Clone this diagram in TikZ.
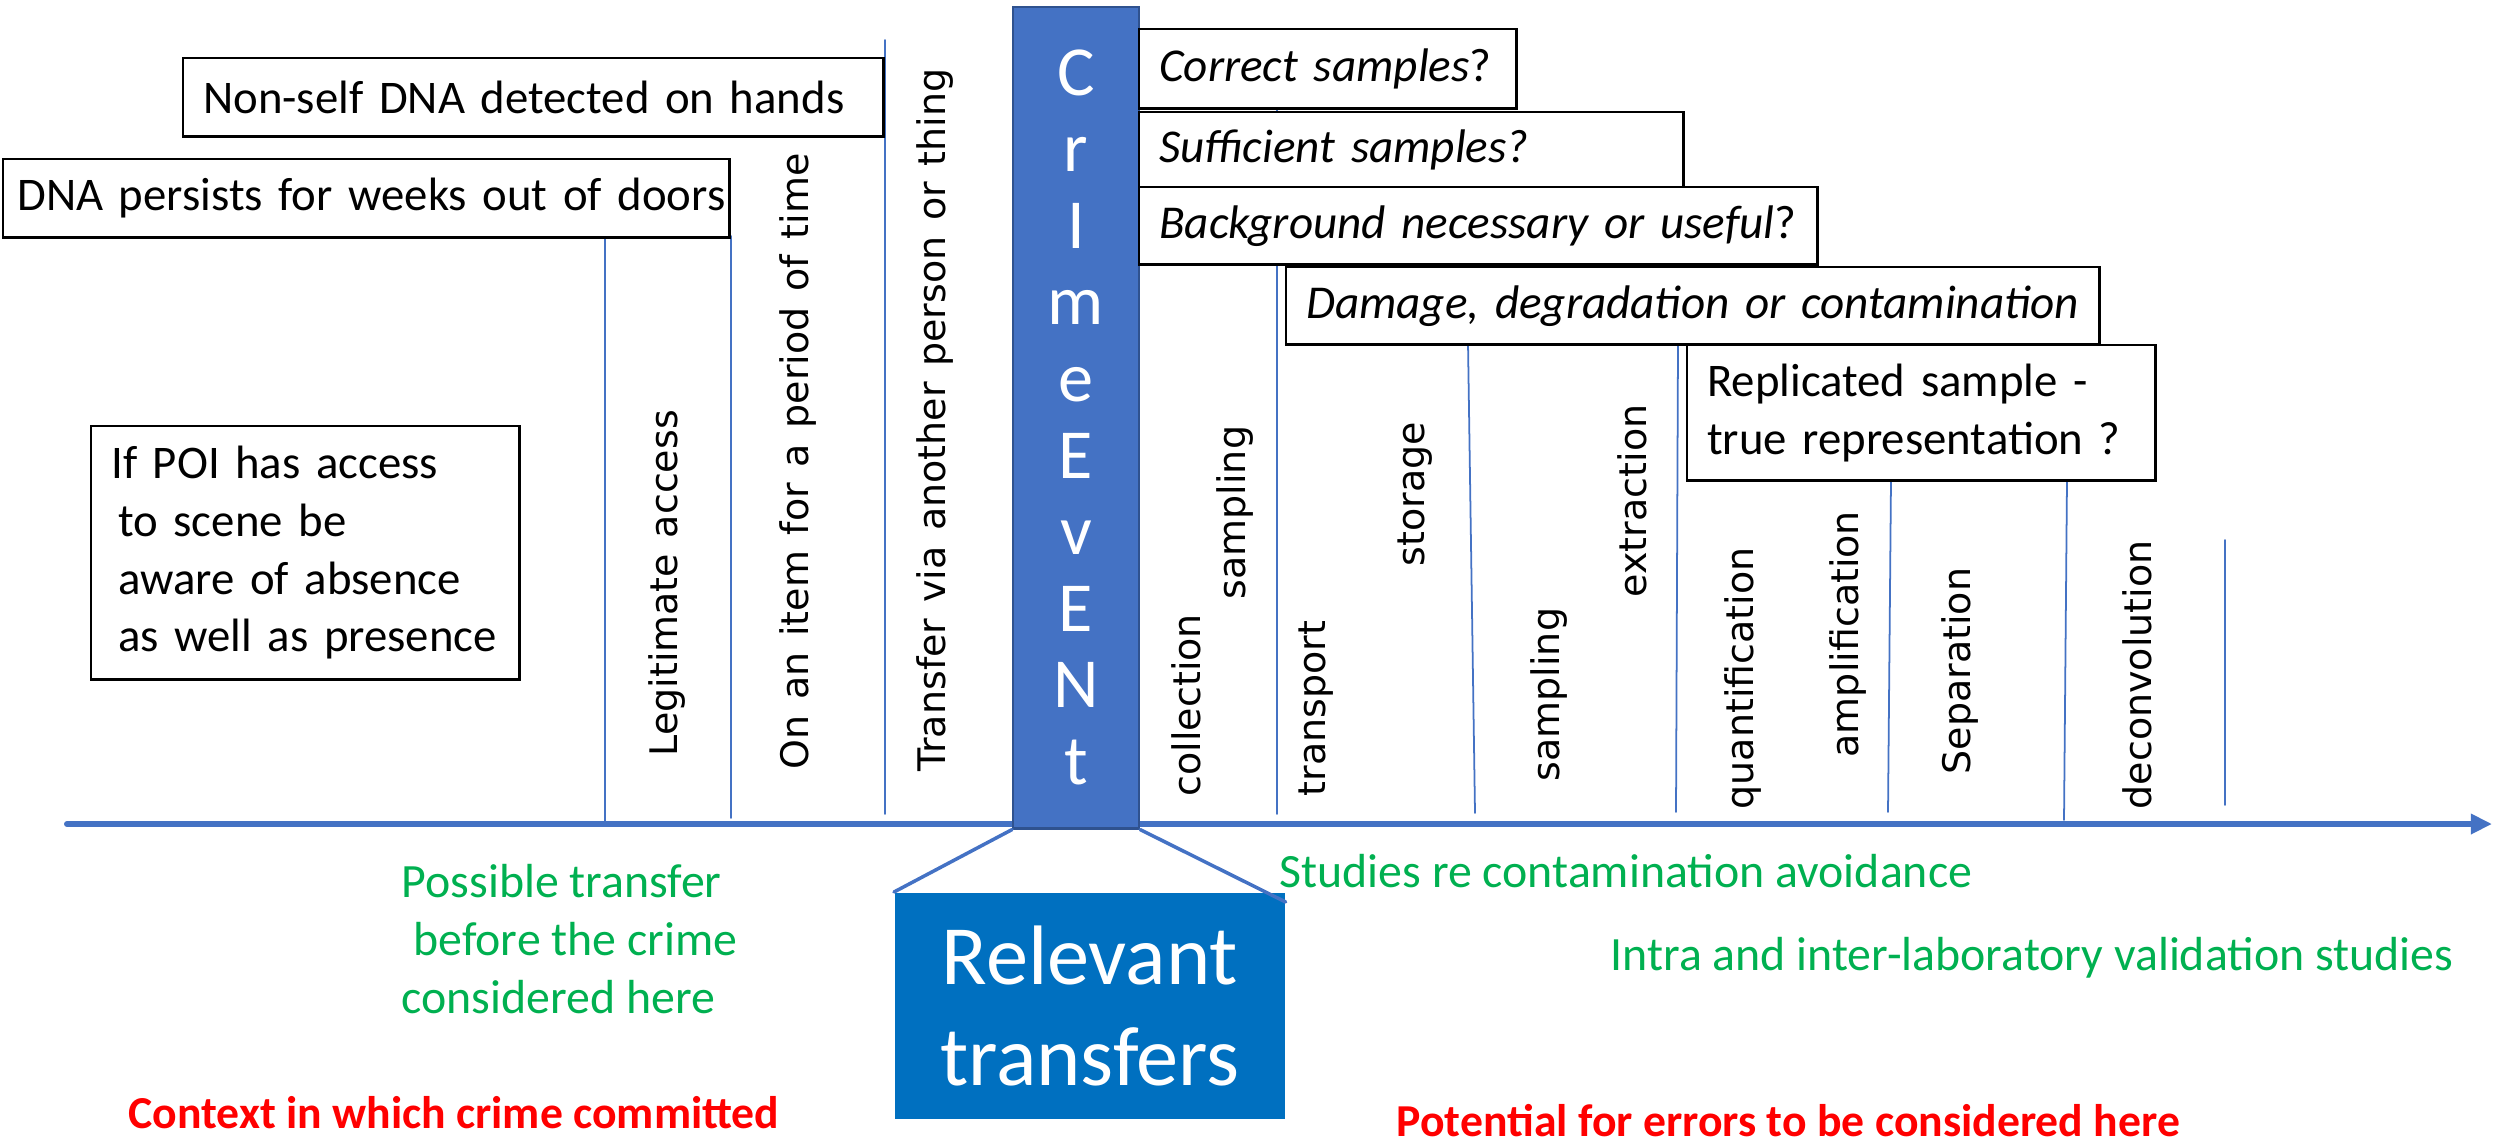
\documentclass[tikz,border=0pt]{standalone}
\usepackage{fontspec}
\setmainfont{Carlito}
\newfontfamily\stagefont[WordSpace=1.3]{DejaVu Sans}
\usetikzlibrary{arrows.meta}

\definecolor{axisblue}{HTML}{4472C4}
\definecolor{eventedge}{HTML}{2F528F}
\definecolor{relblue}{HTML}{0070C0}
\definecolor{notegreen}{HTML}{00B050}
\definecolor{notered}{HTML}{FF0000}

\begin{document}
\begin{tikzpicture}[
	x=0.01cm, y=-0.01cm,
	line cap=round,
	every node/.style={font=\fontsize{13.6}{16.4}\selectfont},
	note/.style={draw=black, line width=0.7pt, fill=white, anchor=north west,
		align=left, inner xsep=0.2cm, inner ysep=0pt,
		font=\fontsize{13.3}{16.4}\selectfont},
	query/.style={note, font=\fontsize{13.4}{16.4}\selectfont\itshape},
	stage/.style={rotate=90, anchor=west, inner sep=0pt,
		font=\stagefont\fontsize{10.8}{12}\selectfont},
	tick/.style={draw=axisblue, line width=0.5pt},
	letter/.style={anchor=base, inner sep=0pt, text=white,
		font=\fontsize{20}{24}\selectfont},
	link/.style={draw=axisblue, line width=1pt},
	greentext/.style={text=notegreen, inner sep=0pt},
	redtext/.style={text=notered, inner sep=0pt, font=\fontsize{13}{16}\selectfont\bfseries}
	]
	\useasboundingbox (0,0) rectangle (2503,1145);
	
	% Time line
	\coordinate (tstart) at (67,824);
	\coordinate (tend) at (2492,824);
	\draw[axisblue, line width=1.7pt, -{Triangle[length=6pt, width=5.5pt]}] (tstart) -- (tend);
	
	% Thin stage dividers
	\foreach \xa/\ya/\xb/\yb in {605/236/605/822, 731/236/731/818, 885/40/885/814,
		1277/107/1277/814, 1468/343/1475/813, 1678/343/1676/812,
		1891/479/1888/812, 2067/479/2064/820, 2225/540/2225/805}
	\draw[tick] (\xa,\ya) -- (\xb,\yb);
	
	% Crime event bar
	\node[draw=eventedge, fill=axisblue, line width=0.6pt, anchor=north west,
		minimum width=1.26cm, minimum height=8.21cm, inner sep=0pt] (event) at (1012,6) {};
	\foreach \ch [count=\i from 0] in {C,r,I,m,e,E,v,E,N,t}
	\node[letter] (letter\i) at (1076,{95+76.6*\i}) {\ch};
	
	% Relevant transfers
	\node[fill=relblue, anchor=north west, minimum width=3.9cm, minimum height=2.26cm,
		align=center, text=white, font=\fontsize{24}{28.7}\selectfont] (rel) at (894,892)
		{Relevant\\transfers};
	\draw[link] (event.south west) -- (rel.north west);
	\draw[link] (event.south east) -- ([yshift=-0.1cm]rel.north east);
	
	% Before the crime
	\node[note, text width=6.6cm, minimum height=0.78cm] (nonself) at (182,57)
		{\mbox{Non-self DNA detected on hands}};
	\node[note, text width=6.98cm, minimum height=0.78cm, inner xsep=0.14cm] (persists) at (2,158)
		{\mbox{DNA persists for weeks out of doors}};
	\node[note, text width=3.88cm, minimum height=2.53cm] (poi) at (90,425)
		{\mbox{If POI has access}\\\mbox{\hspace*{0.15em}to scene be}\\
		\mbox{\hspace*{0.15em}aware of absence}\\\mbox{\hspace*{0.15em}as well as presence}};
	
	% After the crime
	\node[query, text width=3.37cm, minimum height=0.79cm] (correct) at (1138,28)
		{\mbox{Correct samples{\upshape ?}}};
	\node[query, text width=5.04cm, minimum height=0.75cm] (sufficient) at (1138,111)
		{\mbox{Sufficient samples?}};
	\node[query, text width=6.38cm, minimum height=0.77cm] (background) at (1138,186)
		{\mbox{Background necessary or useful{\upshape ?}}};
	\node[query, text width=7.73cm, minimum height=0.77cm] (damage) at (1285,266)
		{\mbox{Damage, degradation or contamination}};
	\node[note, text width=4.28cm, minimum height=1.35cm] (replicated) at (1686,344)
		{\mbox{Replicated sample -}\\\mbox{true representation ?}};
	
	% Stage labels
	\foreach \x/\y/\txt [count=\i] in {667/757/Legitimate access,
		798/770/On an item for a period of time,
		935/772/Transfer via another person or thing,
		1186/797/collection, 1235/600/sampling, 1316/797/transport,
		1415/567/storage, 1549/782/sampling, 1632/598/extraction,
		1743/810/quantification, 1848/758/amplification,
		1960/775/Separation, 2137/810/deconvolution}
	\node[stage] (stage\i) at (\x,\y) {\txt};
	
	% Green notes
	\node[greentext, anchor=north west, align=left] (possible) at (401,864)
		{Possible transfer\\\hspace*{0.25em}before the crime\\considered here};
	\node[greentext, anchor=base west] (studies) at (1279,887)
		{Studies re contamination avoidance};
	\node[greentext, anchor=base west] (intra) at (1610,970)
		{Intra and inter-laboratory validation studies};
	
	% Red notes
	\node[redtext, anchor=base west] (context) at (128,1128)
		{Context in which crime committed};
	\node[redtext, anchor=base west] (potential) at (1396,1136)
		{Potential for errors to be considered here};
	
\end{tikzpicture}
\end{document}
